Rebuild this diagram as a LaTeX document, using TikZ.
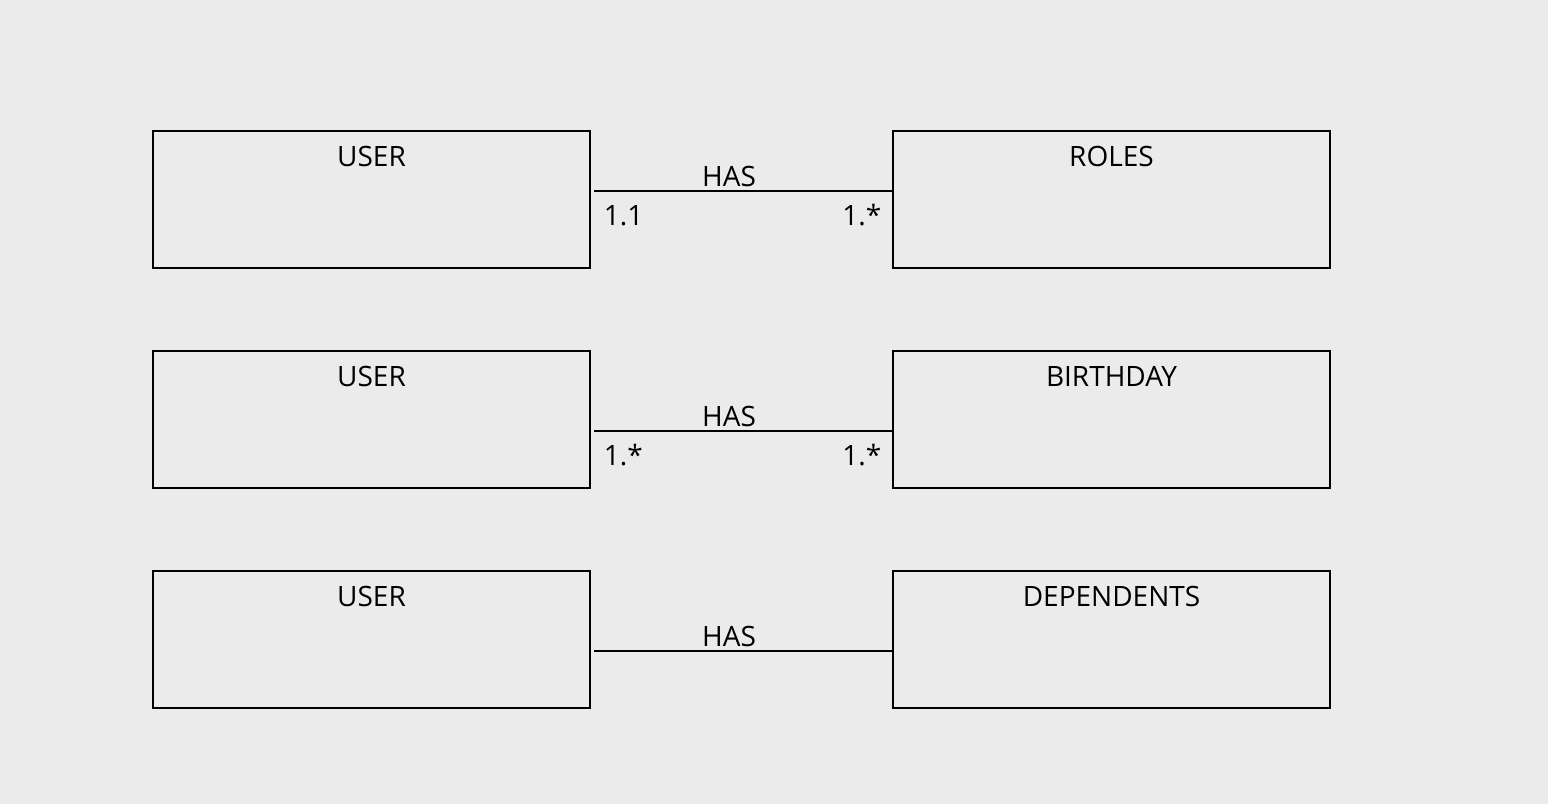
\documentclass[tikz,border=0pt]{standalone}
\usepackage{fontspec}
\setmainfont{Open Sans}
\usetikzlibrary{positioning}
\definecolor{bggray}{HTML}{EBEBEB}
\tikzset{
    entity/.style={draw=black, line width=1pt, minimum width=218.5pt, minimum height=68.5pt, inner sep=0pt},
    title/.style={anchor=north, font=\fontsize{14}{16}\selectfont, inner sep=0pt},
    rel/.style={draw=black, line width=0.8pt},
    mult/.style={font=\fontsize{14}{16}\selectfont, inner sep=0pt, text height=10pt, text depth=0pt}
}
\begin{document}
\begin{tikzpicture}[x=0.5pt, y=-0.5pt]
    \fill[bggray] (0, 0) rectangle (1548, 804);
    \useasboundingbox (0, 0) rectangle (1548, 804);

    % entities
    \node[entity] (user1) at (371.5, 199.5) {};
    \node[entity] (roles) at (1111.5, 199.5) {};
    \node[entity] (user2) at (371.5, 419.5) {};
    \node[entity] (birthday) at (1111.5, 419.5) {};
    \node[entity] (user3) at (371.5, 639.5) {};
    \node[entity] (dependents) at (1111.5, 639.5) {};

    \node[title] (t1) at ([yshift=-8pt]user1.north) {USER};
    \node[title] (t2) at ([yshift=-8pt]roles.north) {ROLES};
    \node[title] (t3) at ([yshift=-8pt]user2.north) {USER};
    \node[title] (t4) at ([yshift=-8pt]birthday.north) {BIRTHDAY};
    \node[title] (t5) at ([yshift=-8pt]user3.north) {USER};
    \node[title] (t6) at ([yshift=-8pt]dependents.north) {DEPENDENTS};

    % relations
    \draw[rel] ([xshift=1.5pt, yshift=4.25pt]user1.east) -- ([yshift=4.25pt]roles.west)
        node[midway, above=2pt, xshift=-7pt, mult] (has1) {HAS}
        node[pos=0, below right=7pt and 4.5pt, mult] (m1a) {1.1}
        node[pos=1, below left=7pt and 5pt, mult] (m1b) {1.*};
    \draw[rel] ([xshift=1.5pt, yshift=-5.75pt]user2.east) -- ([yshift=-5.75pt]birthday.west)
        node[midway, above=2pt, xshift=-7pt, mult] (has2) {HAS}
        node[pos=0, below right=7pt and 4.5pt, mult] (m2a) {1.*}
        node[pos=1, below left=7pt and 5pt, mult] (m2b) {1.*};
    \draw[rel] ([xshift=1.5pt, yshift=-5.75pt]user3.east) -- ([yshift=-5.75pt]dependents.west)
        node[midway, above=2pt, xshift=-7pt, mult] (has3) {HAS};
\end{tikzpicture}
\end{document}
